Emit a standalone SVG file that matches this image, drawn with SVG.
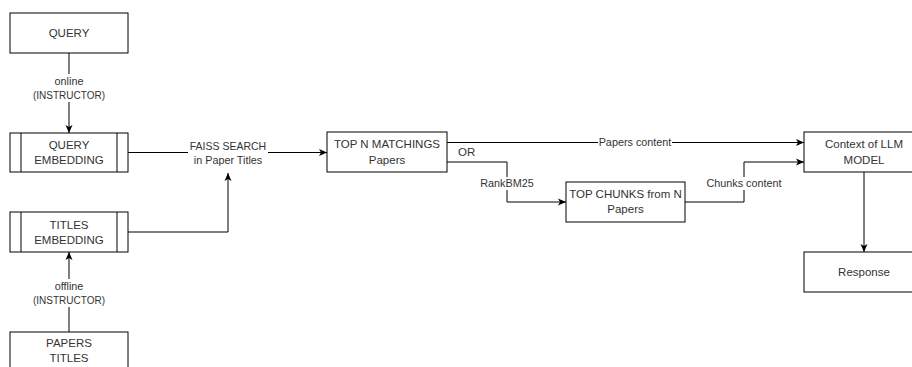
<svg xmlns="http://www.w3.org/2000/svg" width="912" height="367" viewBox="0 0 912 367">
<defs>
<marker id="arr" markerWidth="8" markerHeight="8" refX="8" refY="4" orient="auto" markerUnits="userSpaceOnUse">
<path d="M0,0.5 L8,4 L0,7.5 L2,4 Z" fill="#000"/>
</marker>
<style>
.box{fill:#fff;stroke:#000;stroke-width:1}
.nt{font-family:"Liberation Sans",Arial,sans-serif;font-size:11.5px;fill:#333;text-anchor:middle}
.el{font-family:"Liberation Sans",Arial,sans-serif;font-size:10.8px;fill:#333;text-anchor:middle}
.ln{fill:none;stroke:#000;stroke-width:1}
.bg{fill:#fff}
</style>
</defs>
<rect width="912" height="367" fill="#fff"/>
<g id="connectors">
<path class="ln" d="M69,53 V133" marker-end="url(#arr)"/>
<path class="ln" d="M69,332 V252" marker-end="url(#arr)"/>
<path class="ln" d="M128,152.5 H327" marker-end="url(#arr)"/>
<path class="ln" d="M128,232 H228 V173" marker-end="url(#arr)"/>
<path class="ln" d="M447,142.5 H804" marker-end="url(#arr)"/>
<path class="ln" d="M447,162 H507 V202 H566" marker-end="url(#arr)"/>
<path class="ln" d="M685,202 H744 V162 H804" marker-end="url(#arr)"/>
<path class="ln" d="M864,172 V252" marker-end="url(#arr)"/>
<g id="labels">
<rect class="bg" x="34" y="74" width="70" height="28"/>
<text class="el" x="69" y="85">online</text>
<text class="el" x="69" y="99" style="font-size:10px">(INSTRUCTOR)</text>
<rect class="bg" x="34" y="279" width="70" height="28"/>
<text class="el" x="69" y="290">offline</text>
<text class="el" x="69" y="304" style="font-size:10px">(INSTRUCTOR)</text>
<rect class="bg" x="188" y="139" width="80" height="28"/>
<text class="el" x="228" y="150" style="font-size:10.5px">FAISS SEARCH</text>
<text class="el" x="228" y="164">in Paper Titles</text>
<rect class="bg" x="598" y="136" width="74" height="13"/>
<text class="el" x="635" y="146">Papers content</text>
<rect class="bg" x="481" y="177" width="52" height="13"/>
<text class="el" x="507" y="187">RankBM25</text>
<rect class="bg" x="706" y="177" width="76" height="13"/>
<text class="el" x="744" y="187">Chunks content</text>
<text class="nt" x="458" y="156" style="text-anchor:start">OR</text>
</g>
</g>
<g id="query">
<rect class="box" x="10" y="13" width="118" height="40"/>
<text class="nt" x="69" y="37">QUERY</text>
</g>
<g id="query-embedding">
<rect class="box" x="10" y="133" width="118" height="39"/>
<path class="ln" d="M21,133 V172 M117,133 V172"/>
<text class="nt" x="69" y="149">QUERY</text>
<text class="nt" x="69" y="164">EMBEDDING</text>
</g>
<g id="titles-embedding">
<rect class="box" x="10" y="212" width="118" height="40"/>
<path class="ln" d="M21,212 V252 M117,212 V252"/>
<text class="nt" x="69" y="229">TITLES</text>
<text class="nt" x="69" y="244">EMBEDDING</text>
</g>
<g id="papers-titles">
<rect class="box" x="10" y="332" width="118" height="50"/>
<text class="nt" x="69" y="347">PAPERS</text>
<text class="nt" x="69" y="362">TITLES</text>
</g>
<g id="top-n">
<rect class="box" x="327" y="132" width="120" height="40"/>
<text class="nt" x="387" y="148">TOP N MATCHINGS</text>
<text class="nt" x="387" y="164">Papers</text>
</g>
<g id="top-chunks">
<rect class="box" x="566" y="182" width="119" height="40"/>
<text class="nt" x="625.5" y="198">TOP CHUNKS from N</text>
<text class="nt" x="625.5" y="213">Papers</text>
</g>
<g id="context">
<rect class="box" x="804" y="132" width="120" height="40"/>
<text class="nt" x="864" y="148">Context of LLM</text>
<text class="nt" x="864" y="164">MODEL</text>
</g>
<g id="response">
<rect class="box" x="804" y="252" width="120" height="40"/>
<text class="nt" x="864" y="276">Response</text>
</g>
</svg>
